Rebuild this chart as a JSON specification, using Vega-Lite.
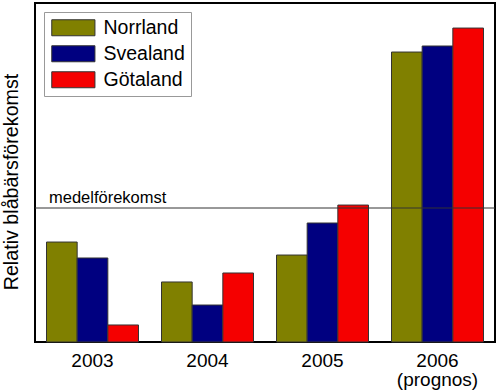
{
  "$schema": "https://vega.github.io/schema/vega-lite/v6.json",
  "width": 460,
  "height": 339,
  "autosize": {"type": "none"},
  "padding": {"left": 35, "top": 3, "right": 5, "bottom": 49},
  "background": "white",
  "config": {
    "font": "Liberation Sans",
    "view": {"stroke": "black", "strokeWidth": 2}
  },
  "datasets": {
    "bars": [
      {"year": "2003", "region": "Norrland", "value": 0.746},
      {"year": "2003", "region": "Svealand", "value": 0.627},
      {"year": "2003", "region": "Götaland", "value": 0.127},
      {"year": "2004", "region": "Norrland", "value": 0.448},
      {"year": "2004", "region": "Svealand", "value": 0.276},
      {"year": "2004", "region": "Götaland", "value": 0.515},
      {"year": "2005", "region": "Norrland", "value": 0.649},
      {"year": "2005", "region": "Svealand", "value": 0.888},
      {"year": "2005", "region": "Götaland", "value": 1.022},
      {"year": "2006", "region": "Norrland", "value": 2.164},
      {"year": "2006", "region": "Svealand", "value": 2.209},
      {"year": "2006", "region": "Götaland", "value": 2.343}
    ],
    "mean": [{"year": "2003", "value": 1.0, "label": "medelförekomst"}]
  },
  "layer": [
    {
      "data": {"name": "bars"},
      "mark": {"type": "bar", "stroke": "#333", "strokeWidth": 1},
      "encoding": {
        "x": {
          "field": "year", "type": "nominal",
          "scale": {"paddingInner": 0.2, "paddingOuter": 0.1},
          "axis": {
            "title": null, "labelAngle": 0, "domain": false, "ticks": false,
            "labelFontSize": 19, "labelColor": "black", "labelPadding": 9,
            "labelLineHeight": 19,
            "labelExpr": "datum.value == '2006' ? ['2006', '(prognos)'] : datum.label"
          }
        },
        "xOffset": {"field": "region", "type": "nominal", "sort": ["Norrland", "Svealand", "Götaland"], "scale": {"paddingInner": 0, "paddingOuter": 0}},
        "y": {
          "field": "value", "type": "quantitative",
          "scale": {"domain": [0, 2.53], "nice": false},
          "axis": {
            "title": "Relativ blåbärsförekomst", "labels": false, "ticks": false,
            "domain": false, "grid": false, "titleFontSize": 19.7,
            "titleFontWeight": "normal", "titleColor": "black",
            "titleX": -18, "titleY": 178.5, "titleBaseline": "alphabetic", "titleAlign": "center", "titleAngle": -90
          }
        },
        "color": {
          "field": "region", "type": "nominal",
          "scale": {"domain": ["Norrland", "Svealand", "Götaland"], "range": ["#808000", "#000080", "#f50000"]},
          "legend": {
            "title": null, "orient": "none", "legendX": 9, "legendY": 9,
            "strokeColor": "#999", "fillColor": "white", "padding": 6,
            "labelFontSize": 19.5, "labelColor": "black",
            "symbolType": "M-1,-1H4.4V1H-1Z", "symbolSize": 256,
            "symbolStrokeColor": "#333", "symbolStrokeWidth": 1, "symbolOpacity": 1,
            "rowPadding": 5, "labelOffset": 34
          }
        }
      }
    },
    {
      "data": {"name": "mean"},
      "mark": {"type": "rule", "stroke": "#333", "strokeWidth": 1},
      "encoding": {"y": {"field": "value", "type": "quantitative"}}
    },
    {
      "data": {"name": "mean"},
      "mark": {"type": "text", "align": "left", "baseline": "alphabetic", "fontSize": 16.5, "dy": -5, "dx": 2.5, "color": "black"},
      "encoding": {
        "x": {"field": "year", "type": "nominal", "bandPosition": 0},
        "y": {"field": "value", "type": "quantitative"},
        "text": {"field": "label"}
      }
    }
  ]
}
